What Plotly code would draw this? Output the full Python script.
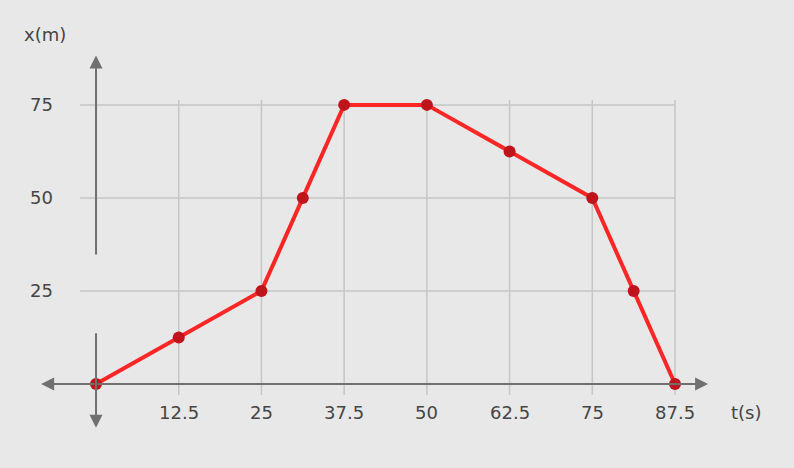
import plotly.graph_objects as go

# Data
t_vals = [0, 12.5, 25, 31.25, 37.5, 50, 62.5, 75, 81.25, 87.5]
x_vals = [0, 12.5, 25, 50, 75, 75, 62.5, 50, 25, 0]
x_ticks = [12.5, 25, 37.5, 50, 62.5, 75, 87.5]
x_tick_labels = ["12.5", "25", "37.5", "50", "62.5", "75", "87.5"]
y_ticks = [25, 50, 75]
y_tick_labels = ["25", "50", "75"]

BG = "#e8e8e8"
GRID = "#c6c6c6"
AXIS = "#707070"
TXT = "#454545"
FONT = "DejaVu Sans"

fig = go.Figure()

# grid lines
shapes = []
for xv in x_ticks:
    shapes.append(dict(type="line", xref="x", yref="y", x0=xv, x1=xv, y0=-3.0, y1=76.3,
                       line=dict(color=GRID, width=1.5), layer="below"))
for yv in y_ticks:
    shapes.append(dict(type="line", xref="x", yref="y", x0=-2.4, x1=87.5, y0=yv, y1=yv,
                       line=dict(color=GRID, width=1.5), layer="below"))

annotations = []
# axes with arrowheads
def arrow(x_tip, y_tip, x_tail, y_tail):
    annotations.append(dict(x=x_tip, y=y_tip, ax=x_tail, ay=y_tail, xref="x", yref="y",
                            axref="x", ayref="y", showarrow=True, arrowhead=2,
                            arrowsize=1.3, arrowwidth=2, arrowcolor=AXIS, text=""))

arrow(92.5, 0, 0, 0)
arrow(-8.3, 0, 0, 0)
arrow(0, 88.3, 0, 34.4)
arrow(0, -11.8, 0, 14.0)

# tick labels
for xv, lab in zip(x_ticks, x_tick_labels):
    annotations.append(dict(x=xv, y=-7.6, xref="x", yref="y", text=lab, showarrow=False,
                            font=dict(family=FONT, size=18, color=TXT)))
for yv, lab in zip(y_ticks, y_tick_labels):
    annotations.append(dict(x=-8.2, y=yv, xref="x", yref="y", text=lab, showarrow=False,
                            font=dict(family=FONT, size=18, color=TXT)))

annotations.append(dict(x=-7.7, y=93.8, xref="x", yref="y", text="x(m)", showarrow=False,
                        font=dict(family=FONT, size=18, color=TXT)))
annotations.append(dict(x=98.2, y=-7.6, xref="x", yref="y", text="t(s)", showarrow=False,
                        font=dict(family=FONT, size=18, color=TXT)))

fig.add_trace(go.Scatter(x=t_vals, y=x_vals, mode="lines+markers",
                         line=dict(color="#ff2626", width=4),
                         marker=dict(color="#c0141c", size=12),
                         hoverinfo="skip", showlegend=False))

fig.update_layout(
    width=794, height=468,
    margin=dict(l=10, r=10, t=10, b=10),
    paper_bgcolor=BG, plot_bgcolor=BG,
    shapes=shapes, annotations=annotations,
    xaxis=dict(range=[-13.0, 103.97], visible=False, fixedrange=True),
    yaxis=dict(range=[-19.9, 100.5], visible=False, fixedrange=True),
    showlegend=False,
)

fig.write_html("out.html", config={"displayModeBar": False},
               post_script="document.body.style.margin='0';document.body.style.background='#e8e8e8';")
